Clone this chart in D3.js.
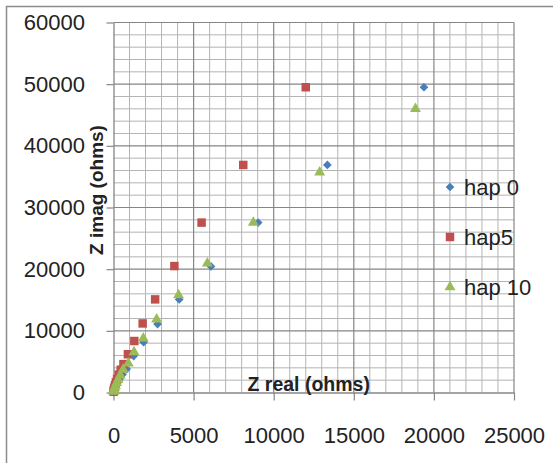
<!DOCTYPE html>
<html>
<head>
<meta charset="utf-8">
<script src="https://cdn.jsdelivr.net/npm/d3@7"></script>
<style>
  body { margin: 0; background: #fff; }
  text { font-family: "Liberation Sans", Arial, sans-serif; fill: #222; }
</style>
</head>
<body>
<script>
// series values (Z real, Z imag in ohms)
let hap0Real = [19380, 13350, 9030, 6085, 4100, 2750, 1880, 1260, 820, 560, 380, 250, 160, 100, 60, 35, 20, 10]
let hap0Imag = [49500, 36900, 27550, 20450, 15100, 11100, 8150, 5900, 3800, 2900, 2200, 1600, 1150, 800, 500, 300, 150, 60]

let hap5Real = [12000, 8100, 5500, 3800, 2600, 1820, 1300, 900, 620, 450, 320, 220, 150, 100, 60, 35, 20, 10]
let hap5Imag = [49500, 36900, 27550, 20500, 15100, 11200, 8350, 6200, 4600, 3700, 2900, 2200, 1650, 1200, 800, 500, 280, 130]

let hap10Real = [18850, 12870, 8730, 5860, 4060, 2690, 1860, 1280, 925, 600, 420, 290, 190, 120, 75, 45, 25, 12]
let hap10Imag = [46000, 35700, 27550, 20950, 15800, 11850, 8800, 6550, 4730, 3700, 2800, 2100, 1550, 1100, 750, 480, 280, 130]

let seriesNames = ["hap 0", "hap5", "hap 10"]
let xTicks = [0, 5000, 10000, 15000, 20000, 25000]
let yTicks = [0, 10000, 20000, 30000, 40000, 50000, 60000]

let margin = {top: 22.5, left: 113.5};
let width = 400.5, height = 370;

let svg = d3.select("body").append("svg")
  .attr("width", 553)
  .attr("height", 463);

// outer frame
svg.append("rect")
  .attr("x", 6.5).attr("y", 6.5)
  .attr("width", 560).attr("height", 470)
  .attr("fill", "none")
  .attr("stroke", "#8c8c8c")
  .attr("stroke-width", 1.5);

let g = svg.append("g")
  .attr("transform", "translate(" + margin.left + "," + margin.top + ")");

let x = d3.scaleLinear().domain([0, 25000]).range([0, width]);
let y = d3.scaleLinear().domain([0, 60000]).range([height, 0]);

// minor grid
g.selectAll(".vminor")
  .data(d3.range(1000, 25000, 1000).filter(d => d % 5000 != 0))
  .enter().append("line")
  .attr("x1", d => x(d)).attr("x2", d => x(d))
  .attr("y1", 0).attr("y2", height)
  .attr("stroke", "#b4b4b4").attr("stroke-width", 1);
g.selectAll(".hminor")
  .data(d3.range(2000, 60000, 2000).filter(d => d % 10000 != 0))
  .enter().append("line")
  .attr("x1", 0).attr("x2", width)
  .attr("y1", d => y(d)).attr("y2", d => y(d))
  .attr("stroke", "#b4b4b4").attr("stroke-width", 1);

// major grid
g.selectAll(".vmajor")
  .data(xTicks.slice(1))
  .enter().append("line")
  .attr("x1", d => x(d)).attr("x2", d => x(d))
  .attr("y1", 0).attr("y2", height)
  .attr("stroke", "#868686").attr("stroke-width", 1.2);
g.selectAll(".hmajor")
  .data(yTicks.slice(1))
  .enter().append("line")
  .attr("x1", 0).attr("x2", width)
  .attr("y1", d => y(d)).attr("y2", d => y(d))
  .attr("stroke", "#868686").attr("stroke-width", 1.2);

// axes
let xAxis = d3.axisBottom(x).tickValues(xTicks).tickSize(8).tickSizeOuter(0).tickPadding(27).tickFormat(d3.format("d"));
let yAxis = d3.axisLeft(y).tickValues(yTicks).tickSize(7).tickSizeOuter(0).tickPadding(21.5).tickFormat(d3.format("d"));

let gx = g.append("g")
  .attr("transform", "translate(0," + height + ")")
  .call(xAxis);
let gy = g.append("g").call(yAxis);

[gx, gy].forEach(a => {
  a.select(".domain").attr("stroke", "#868686").attr("stroke-width", 1.3);
  a.selectAll(".tick line").attr("stroke", "#868686").attr("stroke-width", 1.2);
  a.selectAll(".tick text")
    .style("font-family", '"Liberation Sans", Arial, sans-serif')
    .style("font-size", "22px")
    .attr("fill", "#222");
});

// axis titles
g.append("text")
  .attr("x", 134).attr("y", height - 2)
  .style("font-size", "19.5px").style("font-weight", "bold")
  .attr("fill", "#111")
  .text("Z real (ohms)");

g.append("text")
  .attr("transform", "translate(-17," + (190 - margin.top) + ") rotate(-90)")
  .style("text-anchor", "middle")
  .style("font-size", "19px").style("font-weight", "bold")
  .attr("dy", "0.35em")
  .attr("fill", "#111")
  .text("Z imag (ohms)");

// series: diamond is a square turned by 45 degrees
let colors = ["#4a7ebb", "#c0504d", "#9bbb59"]
let shapes = [d3.symbolSquare, d3.symbolSquare, d3.symbolTriangle]
let sizes = [38, 72, 52]
let turns = [45, 0, 0]
let series = [
  hap0Real.map((v, i) => ({re: v, im: hap0Imag[i]})),
  hap5Real.map((v, i) => ({re: v, im: hap5Imag[i]})),
  hap10Real.map((v, i) => ({re: v, im: hap10Imag[i]}))
]

series.forEach((data, k) => {
  g.selectAll(".s" + k)
    .data(data)
    .enter().append("path")
    .attr("class", "s" + k)
    .attr("d", d3.symbol().type(shapes[k]).size(sizes[k]))
    .attr("transform", d => "translate(" + x(d.re) + "," + y(d.im) + ") rotate(" + turns[k] + ")")
    .attr("fill", colors[k]);
});

// legend
let legend = svg.append("g");
seriesNames.forEach((name, k) => {
  let ly = 187 + k * 50;
  legend.append("path")
    .attr("d", d3.symbol().type(shapes[k]).size(sizes[k]))
    .attr("transform", "translate(450," + ly + ") rotate(" + turns[k] + ")")
    .attr("fill", colors[k]);
  legend.append("text")
    .attr("x", 464).attr("y", ly)
    .attr("dy", "0.35em")
    .style("font-size", "22px")
    .text(name);
});
</script>
</body>
</html>
